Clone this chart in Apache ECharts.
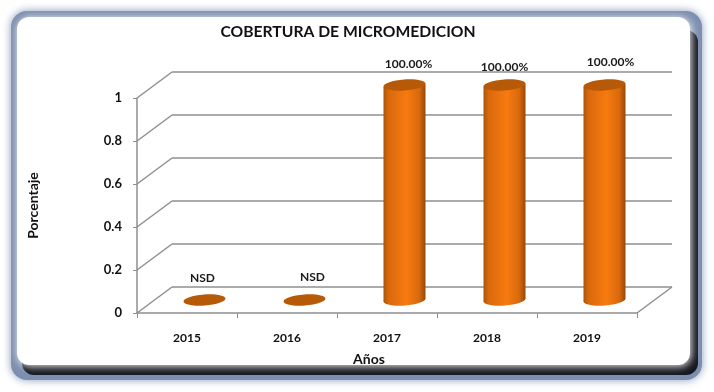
<!DOCTYPE html>
<html>
<head>
<meta charset="utf-8">
<style>
  html, body { margin: 0; padding: 0; background: #fff; }
  #chart { width: 714px; height: 392px; }
</style>
</head>
<body>
<div id="chart"></div>
<script src="https://cdn.jsdelivr.net/npm/echarts@6/dist/echarts.min.js"></script>
<script>
const years = ["2015", "2016", "2017", "2018", "2019"];
const coverage = [0, 0, 1, 1, 1];
const valueLabels = ["NSD", "NSD", "100.00%", "100.00%", "100.00%"];
const yTicks = [0, 0.2, 0.4, 0.6, 0.8, 1];

// the label text is not quite centred in the original, nudge per bar
const labelNudgeX = [-2, 8, 4, 0, 6];
const labelNudgeY = [0, -1, 0, 3, -2];

// fake 3d depth
const depthX = 35;
const depthY = 26;
const fontName = "Lato";
const gridColor = "#8f8f8f";

function wallLine(x1, y1, x2, y2) {
  return {
    type: "line",
    shape: { x1: x1, y1: y1, x2: x2, y2: y2 },
    style: { stroke: gridColor, lineWidth: 1.5 },
  };
}

function renderWalls(params, api) {
  const box = params.coordSys;
  const y = api.coord([0, api.value(1)])[1];
  const left = box.x;
  const right = box.x + box.width;
  const lines = [
    wallLine(left, y, left + depthX, y - depthY),
    wallLine(left + depthX, y - depthY, right + depthX, y - depthY),
  ];
  if (api.value(1) === 0) {
    lines.push(wallLine(right, y, right + depthX, y - depthY));
  }
  return { type: "group", children: lines };
}

function renderCylinder(params, api) {
  const point = api.coord([api.value(0), api.value(1)]);
  const base = api.coord([api.value(0), 0]);
  const cx = point[0] + depthX / 2;
  const topY = point[1] - depthY / 2;
  const baseY = base[1] - depthY / 2;
  const rx = 21;
  const ry = 5.5;
  const tilt = 0.07;
  const lift = rx * Math.sin(tilt);
  const side = {
    type: "linear", x: 0, y: 0, x2: 1, y2: 0,
    colorStops: [
      { offset: 0, color: "#a9560a" },
      { offset: 0.12, color: "#d8690d" },
      { offset: 0.55, color: "#f87a10" },
      { offset: 0.85, color: "#d9690c" },
      { offset: 1, color: "#96490a" },
    ],
  };
  const children = [];
  if (api.value(1) > 0) {
    children.push({
      type: "ellipse",
      shape: { cx: cx, cy: baseY, rx: rx, ry: ry },
      rotation: tilt, originX: cx, originY: baseY,
      style: { fill: side },
    });
    children.push({
      type: "polygon",
      shape: {
        points: [
          [cx - rx, topY + lift], [cx + rx, topY - lift],
          [cx + rx, baseY - lift], [cx - rx, baseY + lift],
        ],
      },
      style: { fill: side },
    });
  }
  children.push({
    type: "ellipse",
    shape: { cx: cx, cy: topY, rx: rx, ry: ry },
    rotation: tilt, originX: cx, originY: topY,
    style: { fill: "#b65a08" },
  });
  const idx = params.dataIndex;
  const isNsd = api.value(1) === 0;
  children.push({
    type: "text",
    style: {
      text: valueLabels[idx],
      x: cx + labelNudgeX[idx],
      y: topY - (isNsd ? 22 : 21) + labelNudgeY[idx],
      align: "center",
      verticalAlign: "middle",
      font: "bold 12px " + fontName,
      fill: "#1a1a1a",
    },
  });
  return { type: "group", children: children };
}

const chart = echarts.init(document.getElementById("chart"), null, { renderer: "canvas" });

chart.setOption({
  animation: false,
  backgroundColor: "#ffffff",
  title: {
    text: "COBERTURA DE MICROMEDICION",
    left: 343,
    top: 19,
    textAlign: "center",
    textStyle: { fontFamily: fontName, fontSize: 15.7, fontWeight: "bold", color: "#111" },
  },
  graphic: [
    {
      type: "rect", z: -30,
      shape: { x: 11, y: 11, width: 691, height: 369, r: 16 },
      style: { fill: "#7d8fb0", shadowBlur: 8, shadowColor: "rgba(125,143,176,0.9)" },
    },
    {
      type: "rect", z: -29,
      shape: { x: 22, y: 30, width: 676, height: 345, r: 12 },
      style: { fill: "#14181f" },
    },
    {
      type: "rect", z: -28,
      shape: { x: 17, y: 17, width: 673, height: 348, r: 12 },
      style: { fill: "#ffffff", shadowBlur: 8, shadowColor: "#ffffff", shadowOffsetX: 1, shadowOffsetY: 1 },
    },
  ],
  grid: { left: 137, right: 77, top: 98, bottom: 79 },
  xAxis: {
    type: "category",
    data: years,
    name: "Años",
    nameLocation: "middle",
    nameGap: 39,
    nameTextStyle: {
      fontFamily: fontName, fontSize: 14, fontWeight: "bold", color: "#111",
      padding: [0, 36, 0, 0],
    },
    axisLine: { lineStyle: { color: gridColor, width: 1.5 } },
    axisTick: { show: true, length: 5, alignWithLabel: false, lineStyle: { color: gridColor } },
    axisLabel: { margin: 19, fontFamily: fontName, fontSize: 12, fontWeight: "bold", color: "#111" },
  },
  yAxis: {
    type: "value",
    min: 0,
    max: 1,
    interval: 0.2,
    name: "Porcentaje",
    nameLocation: "middle",
    nameGap: 97,
    nameTextStyle: { fontFamily: fontName, fontSize: 14, fontWeight: "bold", color: "#111" },
    axisLine: { show: true, lineStyle: { color: gridColor, width: 1.5 } },
    axisTick: { show: true, length: 4, lineStyle: { color: gridColor } },
    axisLabel: { margin: 15, fontFamily: fontName, fontSize: 13, fontWeight: "bold", color: "#111" },
    splitLine: { show: false },
  },
  series: [
    {
      type: "custom",
      name: "walls",
      renderItem: renderWalls,
      data: yTicks.map((v) => [0, v]),
      clip: false,
      z: 1,
      silent: true,
    },
    {
      type: "custom",
      name: "Cobertura",
      renderItem: renderCylinder,
      data: coverage.map((v, i) => [i, v]),
      clip: false,
      z: 3,
      silent: true,
    },
  ],
});
</script>
</body>
</html>
